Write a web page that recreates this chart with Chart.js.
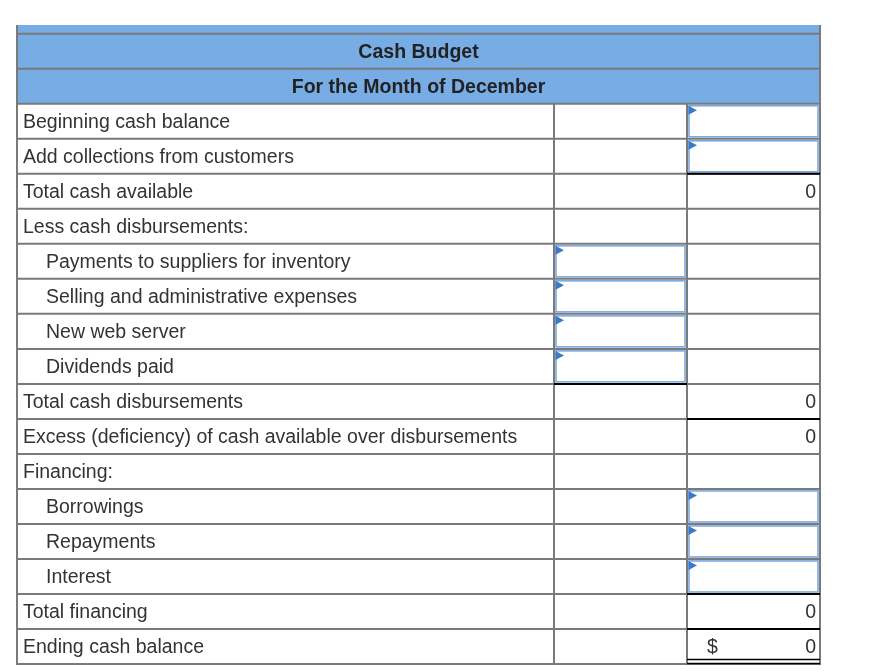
<!DOCTYPE html>
<html><head><meta charset="utf-8">
<script src="https://cdn.jsdelivr.net/npm/chart.js@4.4.1/dist/chart.umd.min.js"></script>
<style>html,body{margin:0;padding:0;background:#fff;} #wrap{width:882px;height:672px;position:relative;}</style>
</head><body><div id="wrap"><canvas id="c"></canvas></div>
<script>
// ---- data ----
const headerTitles = ["Cash Budget", "For the Month of December"];
const rowLabels = [
  "Beginning cash balance",
  "Add collections from customers",
  "Total cash available",
  "Less cash disbursements:",
  "Payments to suppliers for inventory",
  "Selling and administrative expenses",
  "New web server",
  "Dividends paid",
  "Total cash disbursements",
  "Excess (deficiency) of cash available over disbursements",
  "Financing:",
  "Borrowings",
  "Repayments",
  "Interest",
  "Total financing",
  "Ending cash balance"
];
const rowIndent = [0,0,0,0,1,1,1,1,0,0,0,1,1,1,0,0];
const col2InputRows = [4,5,6,7];
const col3InputRows = [0,1,11,12,13];
const col3Values = [null,null,0,null,null,null,null,null,0,0,null,null,null,null,0,0];
const dollarRows = [15];
const col2RuleAbove = [8];
const col3RuleAbove = [2,9,14,15];
const col3DoubleBelow = [15];

// table geometry in scale units
const colEdges = [0, 537, 670, 803];
const yTop = -2.25, yBottom = rowLabels.length;

const tablePlugin = {
  id: 'table',
  afterDraw(chart) {
    const ctx = chart.ctx;
    const xs = chart.scales.x, ys = chart.scales.y;
    const X = v => xs.getPixelForValue(v);
    const Y = v => ys.getPixelForValue(v);
    const L = X(colEdges[0]), C1 = X(colEdges[1]), C2 = X(colEdges[2]), R = X(colEdges[3]);
    ctx.save();
    // header band
    ctx.fillStyle = '#78ace4';
    ctx.fillRect(L, Y(yTop), R - L, Y(0) - Y(yTop));
    // gray grid
    ctx.strokeStyle = '#7a7a7a';
    ctx.lineWidth = 2;
    ctx.beginPath();
    for (let r = -2; r <= rowLabels.length; r++) {
      ctx.moveTo(L - 1, Y(r)); ctx.lineTo(R + 1, Y(r));
    }
    ctx.moveTo(L, Y(yTop)); ctx.lineTo(L, Y(yBottom));
    ctx.moveTo(R, Y(yTop)); ctx.lineTo(R, Y(yBottom));
    ctx.moveTo(C1, Y(0)); ctx.lineTo(C1, Y(yBottom));
    ctx.moveTo(C2, Y(0)); ctx.lineTo(C2, Y(yBottom));
    ctx.stroke();
    // header text
    ctx.fillStyle = '#222';
    ctx.font = 'bold 19.5px "Liberation Sans", Arial, sans-serif';
    ctx.textAlign = 'center';
    ctx.textBaseline = 'alphabetic';
    headerTitles.forEach((t, i) => {
      ctx.fillText(t, (L + R) / 2, Y(-2 + i + 0.69));
    });
    // row labels
    ctx.fillStyle = '#333';
    ctx.font = '19.5px "Liberation Sans", Arial, sans-serif';
    ctx.textAlign = 'left';
    rowLabels.forEach((t, i) => {
      ctx.fillText(t, X(rowIndent[i] ? 29 : 6), Y(i + 0.7));
    });
    // values
    ctx.textAlign = 'right';
    col3Values.forEach((v, i) => {
      if (v !== null) ctx.fillText(String(v), X(799), Y(i + 0.7));
    });
    ctx.textAlign = 'left';
    dollarRows.forEach(i => ctx.fillText('$', X(690), Y(i + 0.7)));
    // input boxes
    const box = (x0, x1, r) => {
      const l = x0 + 2, t = Y(r) + 2, w = x1 - x0 - 4, h = Y(r + 1) - Y(r) - 4;
      ctx.fillStyle = '#fff';
      ctx.fillRect(l, t, w, h);
      ctx.strokeStyle = '#7ea8de';
      ctx.lineWidth = 1.6;
      ctx.strokeRect(l, t, w, h);
      ctx.fillStyle = '#3b7ac6';
      ctx.beginPath();
      ctx.moveTo(l - 0.5, t);
      ctx.lineTo(l + 8, t + 4.5);
      ctx.lineTo(l - 0.5, t + 9);
      ctx.closePath();
      ctx.fill();
    };
    col2InputRows.forEach(r => box(C1, C2, r));
    col3InputRows.forEach(r => box(C2, R, r));
    // black rules
    ctx.strokeStyle = '#000';
    ctx.lineWidth = 2;
    ctx.beginPath();
    col2RuleAbove.forEach(r => { ctx.moveTo(C1, Y(r)); ctx.lineTo(C2, Y(r)); });
    col3RuleAbove.forEach(r => { ctx.moveTo(C2, Y(r)); ctx.lineTo(R, Y(r)); });
    ctx.stroke();
    ctx.lineWidth = 1.6;
    ctx.beginPath();
    col3DoubleBelow.forEach(r => {
      ctx.moveTo(C2, Y(r + 1) - 4.5); ctx.lineTo(R, Y(r + 1) - 4.5);
      ctx.moveTo(C2, Y(r + 1) - 0.5); ctx.lineTo(R, Y(r + 1) - 0.5);
    });
    ctx.stroke();
    ctx.restore();
  }
};

new Chart(document.getElementById('c'), {
  type: 'scatter',
  data: { datasets: [{ data: [] }] },
  options: {
    responsive: true,
    maintainAspectRatio: false,
    animation: false,
    layout: { padding: { left: 17, right: 62, top: 25, bottom: 8 } },
    plugins: { legend: { display: false }, tooltip: { enabled: false } },
    scales: {
      x: { type: 'linear', display: false, min: colEdges[0], max: colEdges[3] },
      y: { type: 'linear', display: false, min: yTop, max: yBottom, reverse: true }
    }
  },
  plugins: [tablePlugin]
});
</script>
</body></html>
